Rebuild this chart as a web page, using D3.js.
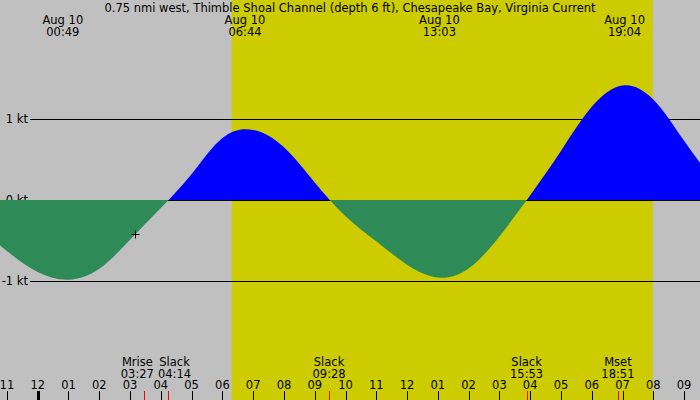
<!DOCTYPE html>
<html>
<head>
<meta charset="utf-8">
<script src="https://cdn.jsdelivr.net/npm/d3@7"></script>
<style>
  body { margin: 0; background: #c0c0c0; }
  svg text { font-family: "DejaVu Sans", sans-serif; font-size: 11.5px; fill: #000; }
</style>
</head>
<body>
<div id="chart"></div>
<script>
// SVG size
const width = 700;
const height = 400;

const title = "0.75 nmi west, Thimble Shoal Channel (depth 6 ft), Chesapeake Bay, Virginia Current";
const dateLabel = "Aug 10";

// hourly current speed (kt), hours from Aug 10 00:00
const hours = [-2, -1, 0, 1, 2, 3, 4, 5, 6, 7, 8, 9, 10, 11, 12, 13, 14, 15, 16, 17, 18, 19, 20, 21, 22];
const speeds = [-0.32, -0.63, -0.89, -0.985, -0.85, -0.49, -0.10, 0.32, 0.765, 0.865, 0.65, 0.217,
  -0.20, -0.51, -0.80, -0.957, -0.845, -0.45, 0.06, 0.606, 1.15, 1.415, 1.24, 0.73, 0.22];

// max flood / ebb times (top labels)
const extremeTimes = ["00:49", "06:44", "13:03", "19:04"];

// slack water and moon events (bottom labels)
const eventNames = ["Mrise", "Slack", "Slack", "Slack", "Mset"];
const eventTimes = ["03:27", "04:14", "09:28", "15:53", "18:51"];

const sunrise = "06:18";
const sunset = "19:59";

const nowTime = "03:10";
const nowSpeed = -0.42;

const yTicks = [-1, 0, 1];

const toHours = s => { const [h, m] = s.split(":").map(Number); return h + m / 60; };

const points = hours.map((h, i) => ({ t: h, v: speeds[i] }));

const xScale = d3.scaleLinear().domain([-1.225, 21.517]).range([0, width]);
const yScale = d3.scaleLinear().domain([-1, 1]).range([281, 119]);
const y0 = yScale(0);

const svg = d3.select("#chart").append("svg")
  .attr("width", width)
  .attr("height", height);

svg.append("rect").attr("width", width).attr("height", height).attr("fill", "#c0c0c0");

// daylight
svg.append("rect")
  .attr("x", xScale(toHours(sunrise)))
  .attr("width", xScale(toHours(sunset)) - xScale(toHours(sunrise)))
  .attr("y", 0)
  .attr("height", height)
  .attr("fill", "#cccc00");

// grid lines
svg.selectAll(".grid")
  .data(yTicks)
  .enter().append("line")
  .attr("x1", 30).attr("x2", width)
  .attr("y1", d => Math.round(yScale(d)) + 0.5)
  .attr("y2", d => Math.round(yScale(d)) + 0.5)
  .attr("stroke", "#000");

svg.selectAll(".ylab")
  .data(yTicks)
  .enter().append("text")
  .attr("x", 28)
  .attr("y", d => yScale(d) + 4)
  .attr("text-anchor", "end")
  .text(d => `${d} kt`);

// flood / ebb fills
const defs = svg.append("defs");
defs.append("clipPath").attr("id", "above")
  .append("rect").attr("x", 0).attr("y", 0).attr("width", width).attr("height", y0);
defs.append("clipPath").attr("id", "below")
  .append("rect").attr("x", 0).attr("y", y0).attr("width", width).attr("height", height - y0);

const area = d3.area()
  .x(d => xScale(d.t))
  .y0(y0)
  .y1(d => yScale(d.v))
  .curve(d3.curveNatural);

svg.append("path").datum(points)
  .attr("d", area).attr("fill", "#0000ff").attr("clip-path", "url(#above)");
svg.append("path").datum(points)
  .attr("d", area).attr("fill", "#2e8b57").attr("clip-path", "url(#below)");

// now marker
const nx = Math.round(xScale(toHours(nowTime))) + 0.5;
const ny = Math.round(yScale(nowSpeed)) + 0.5;
svg.append("path")
  .attr("d", `M${nx - 4},${ny}H${nx + 4}M${nx},${ny - 4}V${ny + 4}`)
  .attr("stroke", "#000");

// title
svg.append("text")
  .attr("x", width / 2)
  .attr("y", 12)
  .attr("text-anchor", "middle")
  .text(title);

// max labels on top
const extLabels = svg.selectAll(".ext")
  .data(extremeTimes)
  .enter().append("g")
  .attr("transform", d => `translate(${xScale(toHours(d))},0)`);
extLabels.append("text").attr("y", 24).attr("text-anchor", "middle").text(dateLabel);
extLabels.append("text").attr("y", 36).attr("text-anchor", "middle").text(d => d);

// hour ticks
const hourTicks = d3.range(-1, 22);
svg.selectAll(".htick")
  .data(hourTicks)
  .enter().append("line")
  .attr("x1", d => Math.round(xScale(d)) + 0.5)
  .attr("x2", d => Math.round(xScale(d)) + 0.5)
  .attr("y1", 391).attr("y2", height)
  .attr("stroke", "#000")
  .attr("stroke-width", d => d === 0 ? 3 : 1);

svg.selectAll(".hlab")
  .data(hourTicks)
  .enter().append("text")
  .attr("x", d => xScale(d))
  .attr("y", 389)
  .attr("text-anchor", "middle")
  .text(d => { const h = ((d % 12) + 12) % 12; return d3.format("02")(h === 0 ? 12 : h); });

// event ticks
svg.selectAll(".etick")
  .data(eventTimes)
  .enter().append("line")
  .attr("x1", d => Math.round(xScale(toHours(d))) + 0.5)
  .attr("x2", d => Math.round(xScale(toHours(d))) + 0.5)
  .attr("y1", 391).attr("y2", height)
  .attr("stroke", "#ff0000");

// event labels, pushed apart when they overlap
const ev = svg.selectAll(".ev")
  .data(eventTimes.map((t, i) => ({ name: eventNames[i], time: t, x: xScale(toHours(t)) })))
  .enter().append("g");
ev.append("text").attr("y", 366).attr("text-anchor", "middle").text(d => d.name);
ev.append("text").attr("y", 377.5).attr("text-anchor", "middle").text(d => d.time);

const evData = ev.data();
ev.each(function(d) { d.w = this.getBBox().width; });
for (let i = 1; i < evData.length; i++) {
  const a = evData[i - 1], b = evData[i];
  const need = a.w / 2 + b.w / 2 + 4;
  const gap = b.x - a.x;
  if (gap < need) {
    a.x -= (need - gap) / 2;
    b.x += (need - gap) / 2;
  }
}
ev.attr("transform", d => `translate(${d.x},0)`);
</script>
</body>
</html>
